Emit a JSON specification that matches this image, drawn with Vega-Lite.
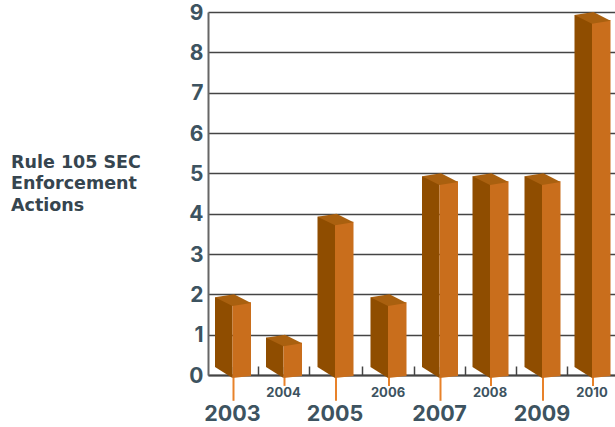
{
"$schema":"https://vega.github.io/schema/vega-lite/v6.json",
"width":407,"height":363,
"autosize":{"type":"none"},
"padding":{"left":208,"top":12,"right":0,"bottom":52},
"background":"white",
"config":{"view":{"stroke":null}},
"title":{"text":["Rule 105 SEC","Enforcement","Actions"],"orient":"top","anchor":"start","frame":"group","dx":-197,"dy":212,"baseline":"top","offset":0,"font":"DejaVu Sans","fontWeight":"bold","fontSize":17.5,"lineHeight":21.5,"color":"#36454f"},
"data":{"values":[
{"year":2003,"actions":2,"major":true},
{"year":2004,"actions":1,"major":false},
{"year":2005,"actions":4,"major":true},
{"year":2006,"actions":2,"major":false},
{"year":2007,"actions":5,"major":true},
{"year":2008,"actions":5,"major":false},
{"year":2009,"actions":5,"major":true},
{"year":2010,"actions":9,"major":false}
]},
"encoding":{
"x":{"field":"year","type":"quantitative","title":null,
"scale":{"domain":[2002.5,2003,2004,2005,2006,2007,2008,2009,2010,2010.5],"range":[0,24.5,75.5,127,180,231.5,282,334,384,407],"nice":false,"zero":false},
"axis":{"values":[2003.5,2004.5,2005.5,2006.5,2007.5,2008.5,2009.5],"labels":false,"tickSize":-9,"tickColor":"#444444","tickWidth":1.5,"domainColor":"#444444","domainWidth":2,"grid":false,"title":null}}
},
"layer":[
{"transform":[{"filter":"datum.major"}],"mark":{"type":"rule","color":"#E8822A","strokeWidth":2,"xOffset":1},
 "encoding":{"y":{"datum":0,"type":"quantitative"},"y2":{"datum":-0.64}}},
{"transform":[{"filter":"!datum.major"}],"mark":{"type":"rule","color":"#E8822A","strokeWidth":2,"xOffset":1},
 "encoding":{"y":{"datum":0,"type":"quantitative"},"y2":{"datum":-0.27}}},
{"mark":{"type":"rule","color":"#8F4D00","strokeWidth":17.5,"xOffset":-8.75,"yOffset":3,"y2Offset":-8},
 "encoding":{
 "y":{"field":"actions","type":"quantitative","title":null,
  "scale":{"domain":[0,9],"nice":false,"zero":true},
  "axis":{"values":[0,1,2,3,4,5,6,7,8,9],"format":"d","tickSize":0,"labelPadding":5,"labelOffset":1,"labelFont":"Inter","labelFontWeight":"bold","labelFontSize":21,"labelColor":"#3d5360","domainColor":"#666666","domainWidth":2,"grid":true,"gridColor":"#444444","gridWidth":1.5,"gridOpacity":1,"title":null}},
 "y2":{"datum":0}}},
{"mark":{"type":"rule","color":"#C96E1C","strokeWidth":18.5,"xOffset":9.25,"yOffset":8,"y2Offset":0},
 "encoding":{"y":{"field":"actions","type":"quantitative"},"y2":{"datum":0}}},
{"mark":{"type":"point","shape":"M-17.5,3L1.5,0L18.5,8.7L0,11.7Z","size":4,"filled":true,"opacity":1,"color":"#A9600F","strokeWidth":0},
 "encoding":{"y":{"field":"actions","type":"quantitative"}}},
{"mark":{"type":"point","shape":"M-17.5,-8L0,3L0,-8Z","size":4,"filled":true,"opacity":1,"color":"#8F4D00","strokeWidth":0},
 "encoding":{"y":{"datum":0,"type":"quantitative"}}},
{"mark":{"type":"point","shape":"M0,-1L18.5,-1L18.5,1L0,3Z","size":4,"filled":true,"opacity":1,"color":"#C96E1C","strokeWidth":0},
 "encoding":{"y":{"datum":0,"type":"quantitative"}}},
{"transform":[{"filter":"datum.major"}],"mark":{"type":"text","font":"Inter","fontWeight":"bold","fontSize":21.5,"color":"#3d5360","baseline":"middle"},
 "encoding":{"text":{"field":"year","type":"nominal"},"y":{"datum":-0.98,"type":"quantitative"}}},
{"transform":[{"filter":"!datum.major"}],"mark":{"type":"text","font":"Inter","fontWeight":"bold","fontSize":13,"color":"#3d5360","baseline":"middle"},
 "encoding":{"text":{"field":"year","type":"nominal"},"y":{"datum":-0.45,"type":"quantitative"}}}
]
}
